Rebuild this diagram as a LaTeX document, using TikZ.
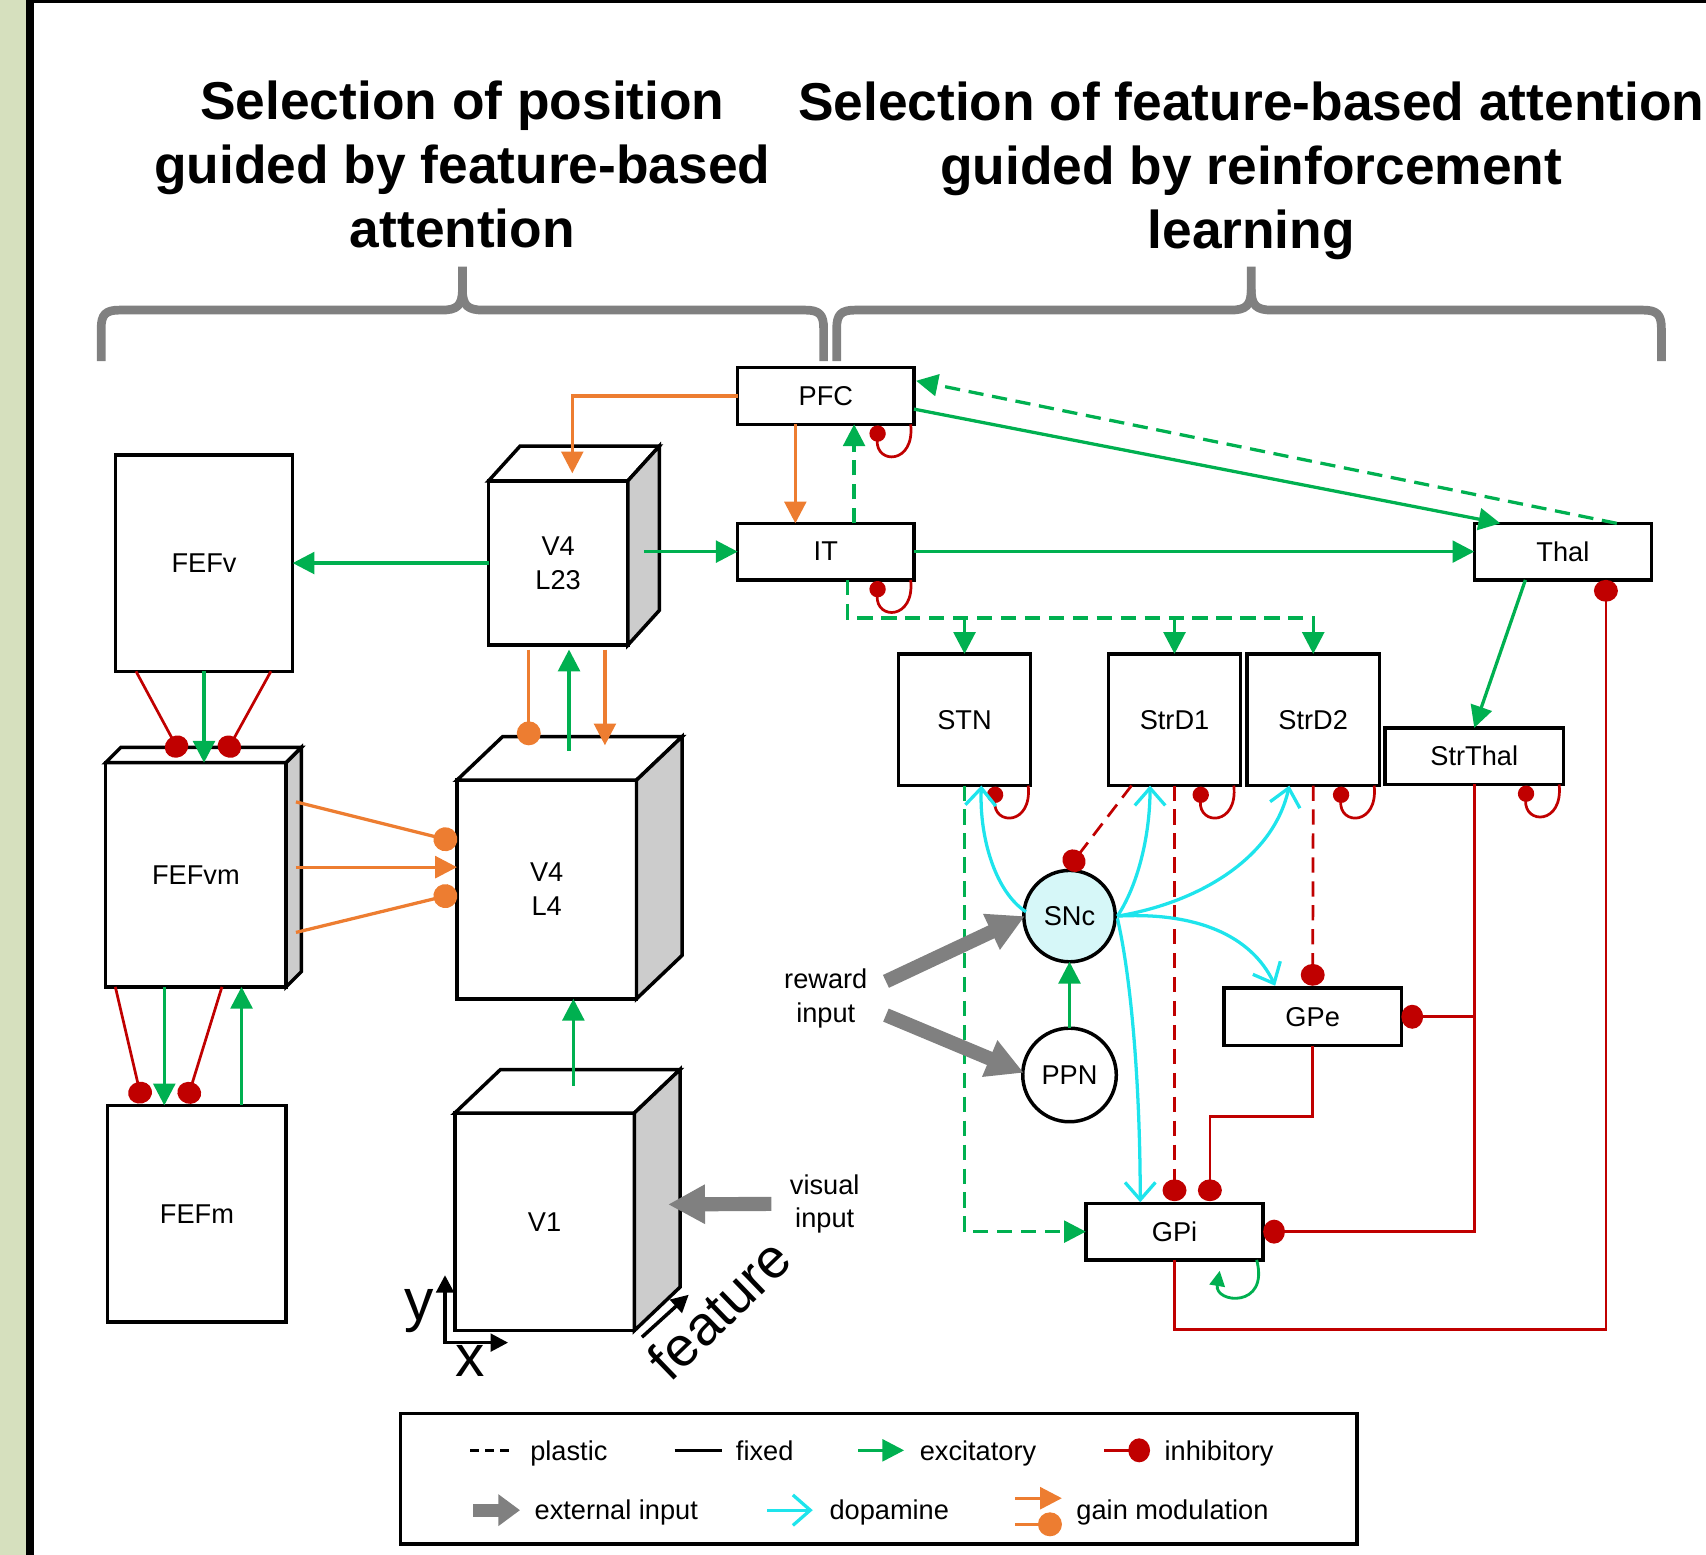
\documentclass[tikz,border=0pt]{standalone}
\usepackage{fontspec}
\setmainfont{Liberation Sans}
\usetikzlibrary{arrows.meta,calc}

\definecolor{exccol}{RGB}{0,176,80}
\definecolor{inhcol}{RGB}{192,0,0}
\definecolor{gaincol}{RGB}{237,125,49}
\definecolor{dopacol}{RGB}{30,228,236}
\definecolor{extcol}{RGB}{128,128,128}
\definecolor{sidecol}{RGB}{204,204,204}
\definecolor{snccol}{RGB}{214,247,248}
\definecolor{stripcol}{RGB}{214,224,190}

% top and right faces of a layer drawn as a block
\newcommand{\blockfaces}[3]{%
  \draw[face, fill=white] (#1.north west) -- ($(#1.north west)+(#2,#3)$) -- ($(#1.north east)+(#2,#3)$) -- (#1.north east) -- cycle;
  \draw[face, fill=sidecol] (#1.north east) -- ($(#1.north east)+(#2,#3)$) -- ($(#1.south east)+(#2,#3)$) -- (#1.south east) -- cycle;
}
% small inhibitory self-connection below a box
\newcommand{\selfloop}[2]{%
  \draw[selfinh] ($(#1.south east)+(-3+#2,0)$) .. controls ($(#1.south east)+(1+#2,37)$) and ($(#1.south east)+(-35+#2,37)$) .. ($(#1.south east)+(-33+#2,1)$);
}

\begin{document}
\begin{tikzpicture}[x=0.5pt,y=-0.5pt,
  lab/.style={font=\fontsize{12.5}{15.5}\selectfont, align=center},
  title/.style={font=\fontsize{24.5}{29.5}\selectfont\bfseries, align=center},
  area/.style={draw, line width=1.6pt, fill=white, inner sep=0pt, outer sep=0pt, lab},
  face/.style={line width=1.6pt, line join=miter, draw=black},
  exc/.style={draw=exccol, line width=1.5pt, -{Triangle[length=10pt,width=10pt]}},
  inh/.style={draw=inhcol, line width=1.25pt, -{Circle[length=10pt,width=11pt]}},
  selfinh/.style={draw=inhcol, line width=1.25pt, -{Circle[length=7.5pt]}},
  gain/.style={draw=gaincol, line width=1.5pt, -{Triangle[length=10pt,width=10pt]}},
  gaindot/.style={draw=gaincol, line width=1.5pt, -{Circle[length=11pt]}},
  dopa/.style={draw=dopacol, line width=1.5pt, -{Straight Barb[length=8pt,width=14pt]}},
  ext/.style={draw=extcol, line width=6.5pt, -{Triangle[length=17pt,width=17pt]}},
  extsmall/.style={draw=extcol, line width=6pt, -{Triangle[length=10pt,width=14pt]}},
  plastic/.style={dash pattern=on 7pt off 4pt},
  brace/.style={draw=extcol, line width=4pt, line join=round},
  axis/.style={draw=black, line width=1.6pt, -{Triangle[length=8pt,width=8pt]}},
  legtext/.style={font=\fontsize{12.5}{15}\selectfont, anchor=base west, inner sep=0pt}
]
\useasboundingbox (0,0) rectangle (1568,1429);

% frame
\fill[stripcol] (0,0) rectangle (24,1429);
\fill[black] (24,0) rectangle (31,1429);
\fill[black] (24,0) rectangle (1568,2.5);

% headings
\node[title] (ttlL) at (425,151) {Selection of position\\guided by feature-based\\attention};
\node[title] (ttlR) at (1150,157) {Selection of feature-based attention\\guided by reinforcement\\learning};

% braces
\draw[brace] (93,332) -- (93,302) .. controls (93,289) and (97,285) .. (110,285) -- (406,285) .. controls (420,285) and (425,281) .. (425,266) -- (425,245);
\draw[brace] (425,266) .. controls (425,281) and (430,285) .. (444,285) -- (740,285) .. controls (753,285) and (757,289) .. (757,302) -- (757,332);
\draw[brace] (769,332) -- (769,302) .. controls (769,289) and (773,285) .. (786,285) -- (1131,285) .. controls (1145,285) and (1150,281) .. (1150,266) -- (1150,245);
\draw[brace] (1150,266) .. controls (1150,281) and (1155,285) .. (1169,285) -- (1510,285) .. controls (1523,285) and (1527,289) .. (1527,302) -- (1527,332);

% areas
\node[area, minimum width=81pt, minimum height=26pt] (PFC) at (759,364) {PFC};
\node[area, minimum width=81pt, minimum height=26pt] (IT) at (759,507) {IT};
\node[area, minimum width=81.5pt, minimum height=26pt] (Thal) at (1436.5,507) {Thal};
\node[area, minimum width=81.5pt, minimum height=99.5pt] (FEFv) at (187.5,517.5) {FEFv};
\node[area, minimum width=82pt, minimum height=99.5pt] (FEFm) at (181,1115.5) {FEFm};
\node[area, minimum width=83pt, minimum height=103pt] (FEFvm) at (180,804) {FEFvm};
\node[area, minimum width=64pt, minimum height=75.5pt] (V4a) at (513,517.5) {V4\\L23};
\node[area, minimum width=82.5pt, minimum height=100.5pt] (V4b) at (502.5,817.5) {V4\\L4};
\node[area, minimum width=82.5pt, minimum height=100pt] (V1) at (500.5,1123) {V1};
\node[area, minimum width=60.5pt, minimum height=60.5pt] (STN) at (886.5,661.5) {STN};
\node[area, minimum width=60.5pt, minimum height=60.5pt] (StrD1) at (1079.5,661.5) {StrD1};
\node[area, minimum width=61pt, minimum height=60.5pt] (StrD2) at (1207,661.5) {StrD2};
\node[area, minimum width=82pt, minimum height=26pt] (StrThal) at (1355,695) {StrThal};
\node[area, minimum width=81.5pt, minimum height=26.5pt] (GPe) at (1206.5,934.5) {GPe};
\node[area, minimum width=81.5pt, minimum height=26pt] (GPi) at (1079.5,1132) {GPi};
\node[area, circle, minimum size=42pt, fill=snccol] (SNc) at (983,842) {SNc};
\node[area, circle, minimum size=43pt] (PPN) at (983,988) {PPN};

\blockfaces{V4a}{29}{-32}
\blockfaces{V4b}{42}{-40}
\blockfaces{FEFvm}{14}{-14}
\blockfaces{V1}{42}{-40}

% gain modulation
\draw[gain] (PFC.west) -| ($(V4a.north west)+(77,-7)$);
\draw[gain] ($(PFC.south west)+(53,0)$) -- ($(IT.north west)+(53,0)$);
\draw[gaindot] ($(V4a.south west)+(37,4)$) -- ($(V4b.north west)+(66,-32)$);
\draw[gain] ($(V4a.south west)+(107,4)$) -- ($(V4b.north west)+(136,-32)$);
\draw[gaindot] ($(FEFvm.north east)+(9,36)$) -- ($(V4b.north west)+(0,57)$);
\draw[gain] ($(FEFvm.north east)+(9,96)$) -- ($(V4b.north west)+(0,80)$);
\draw[gaindot] ($(FEFvm.north east)+(9,156)$) -- ($(V4b.north west)+(0,104)$);

% excitatory, visual stream
\draw[exc] (V4a.west) -- (FEFv.east);
\draw[exc] ($(V4a.east)+(15,-10.5)$) -- (IT.west);
\draw[exc] ($(V4b.north west)+(103,-27)$) -- ($(V4a.south west)+(74,4)$);
\draw[exc] ($(V1.north west)+(109,-25)$) -- ($(V4b.south west)+(107,0)$);
\draw[exc] (FEFv.south) -- (FEFv.south |- FEFvm.north);
\draw[exc] ($(FEFvm.south west)+(54,0)$) -- ($(FEFm.north west)+(52,0)$);
\draw[exc] ($(FEFm.north west)+(123,0)$) -- ($(FEFvm.south west)+(125,0)$);

% inhibitory, FEF
\draw[inh] ($(FEFv.south west)+(19,0)$) -- ($(FEFvm.north west)+(70,-6)$);
\draw[inh] ($(FEFv.south east)+(-20,0)$) -- ($(FEFvm.north west)+(109,-6)$);
\draw[inh] ($(FEFvm.south west)+(9,0)$) -- ($(FEFm.north west)+(32,-2)$);
\draw[inh] ($(FEFvm.south west)+(107,0)$) -- ($(FEFm.north west)+(72,-2)$);

% excitatory, prefrontal and basal ganglia loop
\draw[exc] (IT.east) -- (Thal.west);
\draw[exc] ($(PFC.east)+(0,12)$) -- ($(Thal.north west)+(24,0)$);
\draw[exc, plastic] ($(Thal.north west)+(131,0)$) -- ($(PFC.east)+(2,-14)$);
\draw[exc, plastic] ($(IT.north west)+(107,0)$) -- ($(PFC.south west)+(107,0)$);
\coordinate (bus) at ($(IT.south west)+(101,35)$);
\draw[exc, plastic] ($(IT.south west)+(101,0)$) -- (bus) -| (StrD2.north);
\draw[exc, plastic] (bus -| STN.north) -- (STN.north);
\draw[exc, plastic] (bus -| StrD1.north) -- (StrD1.north);
\draw[exc] ($(Thal.south west)+(47,0)$) -- (StrThal.north);
\draw[exc] (PPN.north) -- (SNc.south);
\draw[exc, plastic] (STN.south) |- (GPi.west);
\draw[exc, line width=1.3pt, -{Triangle[length=7pt,width=7pt]}] ($(GPi.south east)+(-6,0)$) .. controls ($(GPi.south east)+(6,45)$) and ($(GPi.south east)+(-45,40)$) .. ($(GPi.south east)+(-40,10)$);

% inhibitory, basal ganglia
\selfloop{PFC}{0}
\selfloop{IT}{0}
\selfloop{STN}{1}
\selfloop{StrD1}{-3}
\selfloop{StrD2}{-2}
\selfloop{StrThal}{-1}
\draw[inh, plastic] ($(StrD1.south west)+(21,0)$) -- ($(SNc.north)+(-2,-1)$);
\draw[inh, plastic] (StrD1.south) -- ($(GPi.north)+(0,-2)$);
\draw[inh, plastic] (StrD2.south) -- ($(GPe.north)+(0,-2)$);
\draw[inh] (GPe.south) |- ($(GPi.north west)+(114,-80)$) -- ($(GPi.north west)+(114,-2)$);
\draw[inh] (StrThal.south) |- (GPi.east);
\draw[inh] (StrThal.south |- GPe.east) -- (GPe.east);
\draw[inh] (GPi.south) |- ($(Thal.south west)+(121,689)$) -- ($(Thal.south west)+(121,0)$);

% dopamine
\draw[dopa] ($(SNc.west)+(2,-4)$) .. controls (915,820) and (900,770) .. ($(STN.south west)+(76,0)$);
\draw[dopa] ($(SNc.east)+(2,0)$) .. controls (1045,815) and (1057,770) .. ($(StrD1.south west)+(38,0)$);
\draw[dopa] ($(SNc.east)+(2,0)$) .. controls (1100,830) and (1170,790) .. ($(StrD2.south west)+(39,0)$);
\draw[dopa] ($(SNc.east)+(2,0)$) .. controls (1100,838) and (1150,860) .. ($(GPe.north west)+(47,-2)$);
\draw[dopa] ($(SNc.east)+(2,2)$) .. controls (1040,900) and (1048,1000) .. ($(GPi.north west)+(50,-1)$);

% external inputs
\node[lab] (reward) at (759,918) {reward\\input};
\node[lab] (visual) at (758,1106.5) {visual\\input};
\draw[ext] ($(reward.east)+(10,-16)$) -- ($(SNc.west)+(1,0)$);
\draw[ext] ($(reward.east)+(10,15)$) -- ($(PPN.west)+(1,-2)$);
\draw[ext] ($(visual.west)+(-10,0)$) -- ($(V1.east)+(31,-16)$);

% axes
\coordinate (orig) at (409,1234);
\draw[axis] (orig) -- ++(0,-62);
\draw[axis] ($(orig)+(-2,0)$) -- ++(60,0);
\node[font=\fontsize{27}{27}\selectfont] (ylab) at (385,1205) {y};
\node[font=\fontsize{27}{27}\selectfont] (xlab) at (432,1251) {x};
\draw[axis] ($(V1.south east)+(7,6)$) -- ($(V1.south east)+(50,-33)$);
\node[rotate=44, font=\fontsize{25.5}{25.5}\selectfont] (feat) at (661,1203) {feature};

% legend
\node[draw, line width=1.6pt, minimum width=439.5pt, minimum height=60pt, inner sep=0pt] (legend) at (807.5,1359) {};
\coordinate (la1) at (432,1333); \coordinate (la2) at (472,1333);
\draw[line width=1.2pt, dash pattern=on 4pt off 3pt] (la1) -- (la2);
\node[legtext] (tplastic) at (487,1342) {plastic};
\coordinate (lb1) at (620,1333); \coordinate (lb2) at (664,1333);
\draw[line width=1.5pt] (lb1) -- (lb2);
\node[legtext] (tfixed) at (676,1342) {fixed};
\coordinate (lc1) at (789,1333); \coordinate (lc2) at (831,1333);
\draw[exc] (lc1) -- (lc2);
\node[legtext] (texc) at (845,1342) {excitatory};
\coordinate (ld1) at (1015,1333); \coordinate (ld2) at (1057,1333);
\draw[inh] (ld1) -- (ld2);
\node[legtext] (tinh) at (1070,1342) {inhibitory};
\coordinate (le1) at (435,1388); \coordinate (le2) at (478,1388);
\draw[extsmall] (le1) -- (le2);
\node[legtext] (text) at (491,1397) {external input};
\coordinate (lf1) at (705,1388); \coordinate (lf2) at (747,1388);
\draw[dopa] (lf1) -- (lf2);
\node[legtext] (tdopa) at (762,1397) {dopamine};
\coordinate (lg1) at (933,1377); \coordinate (lg2) at (976,1377);
\draw[gain] (lg1) -- (lg2);
\coordinate (lh1) at (933,1401); \coordinate (lh2) at (976,1401);
\draw[gaindot] (lh1) -- (lh2);
\node[legtext] (tgain) at (989,1397) {gain modulation};
\end{tikzpicture}
\end{document}
